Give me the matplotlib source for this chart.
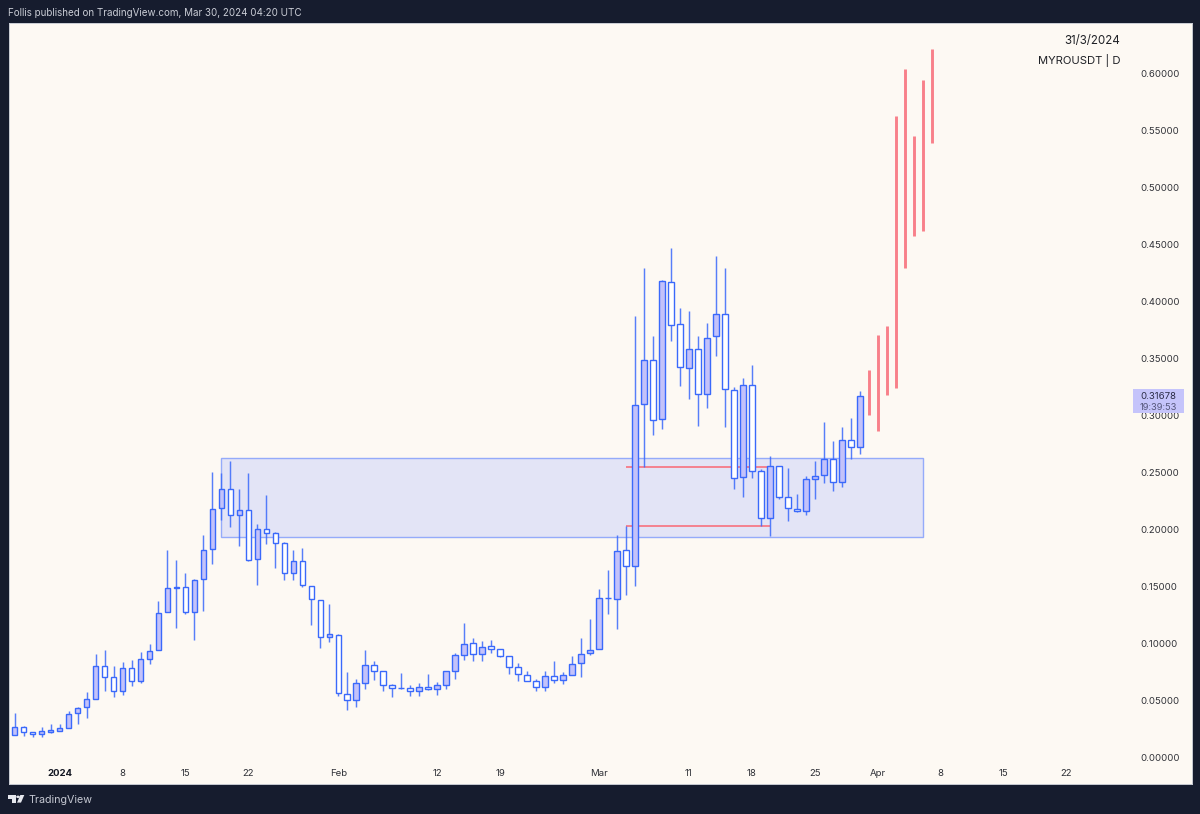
import matplotlib
matplotlib.use('Agg')
import matplotlib.pyplot as plt
from matplotlib.patches import Rectangle, Polygon, Circle

plt.rcParams['font.family'] = ['Inter', 'DejaVu Sans']

# === daily candles, day 0 = 1 Jan 2024 ===
days = list(range(-5, 90))
opens = [.0193, .0266, .0222, .0205, .0222, .0226, .0255, .0384, .0436, .0507,
         .0796, .0702, .0582, .0779, .0665, .0863, .0937, .1273, .1484, .1490,
         .1273, .1563, .1826, .2189, .2356, .2127, .2166, .1738, .1999, .1964,
         .1876, .1618, .1721, .1504, .1381, .1056, .1071, .0553, .0498, .0647,
         .0810, .0755, .0630, .0606, .0603, .0577, .0617, .0594, .0635, .0752,
         .0898, .0998, .0904, .0972, .0946, .0887, .0790, .0723, .0667, .0612,
         .0714, .0673, .0720, .0823, .0910, .0946, .1393, .1390, .1815, .1677,
         .3097, .3488, .2965, .4173, .3799, .3418, .3582, .3190, .3694, .3892,
         .3220, .2456, .3269, .2508, .2096, .2555, .2285, .2180, .2160, .2441,
         .2476, .2614, .2415, .2786, .2719]
highs = [.0384, .0272, .0222, .0266, .0290, .0287, .0401, .0439, .0568, .0904,
         .0937, .0796, .0834, .0849, .0919, .0992, .1367, .1817, .1730, .1613,
         .1563, .1947, .2500, .2494, .2596, .2353, .2494, .2043, .2300, .1973,
         .1890, .1815, .1832, .1504, .1381, .1341, .1077, .0746, .0685, .0942,
         .0840, .0755, .0638, .0738, .0630, .0647, .0729, .0656, .0752, .0910,
         .1177, .1042, .1016, .1030, .0951, .0887, .0823, .0758, .0687, .0752,
         .0840, .0746, .0889, .1047, .1212, .1478, .1639, .1947, .2028, .3872,
         .4296, .3699, .4188, .4472, .3945, .3916, .3699, .3808, .4399, .4291,
         .3249, .3325, .3442, .2531, .2643, .2555, .2535, .2307, .2470, .2599,
         .2944, .2777, .2900, .2974, .3216]
lows = [.0193, .0184, .0173, .0176, .0208, .0226, .0255, .0287, .0345, .0507,
        .0582, .0529, .0547, .0623, .0650, .0819, .0937, .1270, .1130, .1258,
        .1025, .1285, .1695, .2081, .2022, .1853, .1721, .1510, .1870, .1659,
        .1557, .1557, .1493, .1159, .0960, .1012, .0536, .0413, .0442, .0594,
        .0673, .0582, .0527, .0600, .0533, .0533, .0588, .0547, .0600, .0687,
        .0854, .0846, .0846, .0910, .0875, .0729, .0667, .0667, .0577, .0582,
        .0650, .0644, .0717, .0705, .0893, .0946, .1256, .1121, .1425, .1501,
        .2549, .2827, .2877, .3655, .3257, .3141, .2906, .3062, .3521, .2895,
        .2350, .2285, .2447, .2031, .1940, .2265, .2069, .2154, .2122, .2263,
        .2408, .2338, .2368, .2616, .2660]
closes = [.0266, .0222, .0205, .0228, .0234, .0252, .0380, .0433, .0507, .0796,
          .0705, .0582, .0779, .0667, .0860, .0933, .1264, .1484, .1490, .1270,
          .1554, .1820, .2175, .2353, .2127, .2166, .1732, .1999, .1964, .1876,
          .1618, .1721, .1510, .1385, .1056, .1077, .0559, .0498, .0647, .0810,
          .0758, .0630, .0606, .0606, .0577, .0617, .0594, .0632, .0752, .0893,
          .0995, .0904, .0968, .0946, .0887, .0793, .0726, .0667, .0612, .0714,
          .0673, .0717, .0819, .0904, .0939, .1399, .1393, .1811, .1674, .3088,
          .3488, .2959, .4179, .3793, .3422, .3580, .3190, .3681, .3892, .3228,
          .2452, .3264, .2508, .2098, .2555, .2285, .2184, .2157, .2438, .2470,
          .2614, .2415, .2786, .2722, .31678]

# === projected path (red bars) ===
bar_days = [90, 91, 92, 93, 94, 95, 96, 97]
bar_highs = [.3398, .3703, .3782, .5631, .6047, .5455, .5950, .6222]
bar_lows = [.3003, .2865, .3176, .3242, .4296, .4574, .4618, .5397]

# === zone and levels ===
zone_days = (18, 96)
zone_prices = (.1932, .2625)
level_days = (63, 79)
level_prices = [.2028, .2549]

price_ticks = [.00, .05, .10, .15, .20, .25, .30, .35, .40, .45, .50, .55, .60]
date_ticks = [0, 7, 14, 21, 31, 42, 49, 60, 70, 77, 84, 91, 98, 105, 112]
date_labels = ['2024', '8', '15', '22', 'Feb', '12', '19', 'Mar', '11', '18', '25', 'Apr', '8', '15', '22']

BG = '#161c2e'
PANE = '#fdf9f3'
BLUE = '#3a69fb'
UP_FILL = '#c3c2fa'
RED = '#f8808a'
W, H = 1200, 814

fig = plt.figure(figsize=(12, 8.14), dpi=100, facecolor=BG)
ax = fig.add_axes([8.5 / W, 1 - 784.3 / H, (1192 - 8.5) / W, (784.3 - 22.5) / H], facecolor=PANE)
ax.set_xlim(-5.684, 125.96)
ax.set_ylim(-0.02397, 0.64514)

# zone
ax.add_patch(Rectangle((zone_days[0], zone_prices[0]), zone_days[1] - zone_days[0],
                       zone_prices[1] - zone_prices[0], facecolor='#e3e4f6',
                       edgecolor='#95abfa', linewidth=1.0, zorder=1))
ax.hlines(level_prices, level_days[0], level_days[1], color='#f8717f', linewidth=1.2, zorder=1.5)

# candles
ax.vlines(days, lows, highs, color=BLUE, linewidth=1.05, alpha=0.85, zorder=2)
for d, o, c in zip(days, opens, closes):
    ax.bar(d, abs(c - o), bottom=min(o, c), width=0.62,
           facecolor=UP_FILL if c >= o else 'white',
           edgecolor=BLUE, linewidth=1.0, zorder=3)

# projection
ax.vlines(bar_days, bar_lows, bar_highs, color=RED, linewidth=2.1, zorder=3)

# axes text
ax.yaxis.tick_right()
ax.set_yticks(price_ticks)
ax.set_yticklabels(['%.5f' % p for p in price_ticks])
ax.tick_params(axis='y', length=0, pad=-37.5, labelsize=6.9, labelcolor='#2e3036')
ax.set_xticks(date_ticks)
ax.set_xticklabels(date_labels)
ax.tick_params(axis='x', length=0, pad=-11.2, labelsize=6.9, labelcolor='#2e3036')
first = ax.get_xticklabels()[0]
first.set_fontweight('bold')
first.set_color('#131722')
for s in ax.spines.values():
    s.set_color('#c9ccd4')
    s.set_linewidth(0.7)

def px_text(x, y, s, **kw):
    fig.text(x / W, 1 - y / H, s, va='center', **kw)

# current price tag
fig.patches.append(Rectangle((1133 / W, 1 - 413 / H), 51 / W, 24 / H, transform=fig.transFigure,
                             facecolor='#c5c4fb', edgecolor='none', zorder=5))
px_text(1158.5, 396.5, '0.31678', ha='center', color='#2a2b45', fontsize=6.9, zorder=6)
px_text(1158.5, 407.5, '19:39:53', ha='center', color='#55567a', fontsize=6.7, zorder=6)

# top right
px_text(1120, 41, '31/3/2024', ha='right', color='#1f2126', fontsize=8.3)
px_text(1120, 60.5, 'MYROUSDT | D', ha='right', color='#1f2126', fontsize=8.1)

# header and footer
px_text(8.5, 13, 'Follis published on TradingView.com, Mar 30, 2024 04:20 UTC', ha='left',
        color='#c9ccd5', fontsize=7.1)
px_text(28.3, 800, 'TradingView', ha='left', color='#c5c8d2', fontsize=7.7)

def to_fig(pts):
    return [(x / W, 1 - y / H) for x, y in pts]

logo = '#e6e8ee'
fig.patches.append(Polygon(to_fig([(8.3, 795), (15.6, 795), (15.6, 802.6), (11.8, 802.6), (11.8, 798.6), (8.3, 798.6)]),
                           transform=fig.transFigure, facecolor=logo, edgecolor='none'))
fig.patches.append(Polygon(to_fig([(20.3, 795), (24.3, 795), (21, 802.6), (17, 802.6)]),
                           transform=fig.transFigure, facecolor=logo, edgecolor='none'))
fig.patches.append(Circle((18 / W, 1 - 796.8 / H), 1.8 / W, transform=fig.transFigure,
                          facecolor=logo, edgecolor='none'))

fig.savefig('out.png', dpi=100, facecolor=BG)
